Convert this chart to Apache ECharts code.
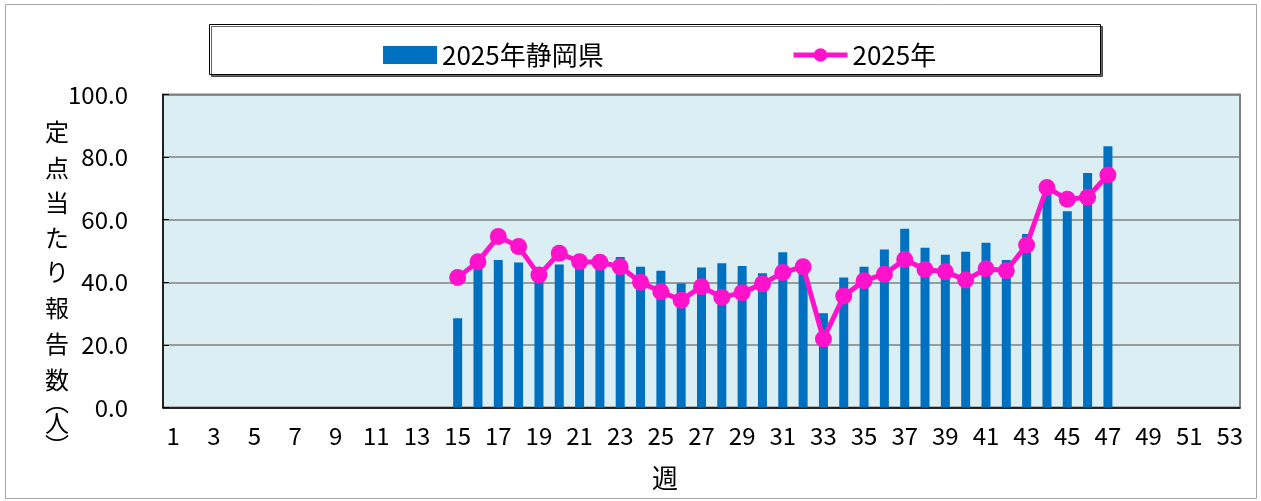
<!DOCTYPE html>
<html>
<head>
<meta charset="utf-8">
<script src="https://cdn.jsdelivr.net/npm/echarts@6/dist/echarts.min.js"></script>
<style>
  html, body { margin: 0; padding: 0; background: #fff; }
  #main { width: 1261px; height: 501px; }
</style>
</head>
<body>
<div id="main"></div>
<script>
// 週 1〜53
var weeks = [];
for (var i = 1; i <= 53; i++) weeks.push(String(i));

// 2025年静岡県（棒）第15週〜第47週
var shizuoka2025 = [
  28.5, 45.0, 47.1, 46.3, 42.0, 45.7, 44.6, 45.2, 48.1, 45.0,
  43.7, 39.6, 44.7, 46.1, 45.2, 42.9, 49.6, 43.5, 30.1, 41.5,
  45.0, 50.5, 57.1, 51.0, 48.8, 49.8, 52.6, 47.1, 55.4, 67.9,
  62.7, 74.9, 83.5
];
// 2025年（折れ線）第15週〜第47週
var total2025 = [
  41.5, 46.6, 54.6, 51.4, 42.3, 49.3, 46.6, 46.4, 45.0, 40.0,
  37.0, 34.3, 38.6, 35.2, 36.7, 39.5, 43.1, 45.0, 21.9, 35.6,
  40.5, 42.6, 47.3, 44.1, 43.4, 40.7, 44.3, 43.7, 51.9, 70.3,
  66.5, 67.2, 74.3
];
var startWeek = 15;

function pad(arr) {
  var out = [];
  for (var i = 1; i <= 53; i++) {
    var k = i - startWeek;
    out.push(k >= 0 && k < arr.length ? arr[k] : null);
  }
  return out;
}

var font = '"Noto Sans CJK JP", "Noto Sans", sans-serif';
// 縦書きの軸名（文字, 中心y）
var yName = ['定', '点', '当', 'た', 'り', '報', '告', '数', '︵', '人', '︶'];
var yNameY = [132, 168, 203, 238, 272, 308, 344, 380, 402, 423, 446];

var graphics = [
  { type: 'rect', shape: { x: 5.5, y: 4.5, width: 1251, height: 494 }, style: { fill: 'none', stroke: '#A6A6A6', lineWidth: 1 }, z: -1 },
  { type: 'rect', shape: { x: 209.5, y: 24.5, width: 891, height: 50 },
    style: { fill: '#fff', stroke: '#000', lineWidth: 1, shadowColor: 'rgba(0,0,0,0.6)', shadowOffsetX: 2, shadowOffsetY: 2, shadowBlur: 0 }, z: -1 },
  { type: 'text', x: 665, y: 478, style: { text: '週', font: '26px ' + font, fill: '#000', align: 'center', verticalAlign: 'middle' } }
];
yName.forEach(function (ch, i) {
  graphics.push({ type: 'text', x: 57, y: yNameY[i], style: { text: ch, font: '24px ' + font, fill: '#000', align: 'center', verticalAlign: 'middle' } });
});

var myChart = echarts.init(document.getElementById('main'));
myChart.setOption({
  animation: false,
  textStyle: { fontFamily: font, color: '#000' },
  grid: { left: 163, right: 21, top: 94.5, bottom: 93.5, show: true, backgroundColor: '#DAEEF3', borderWidth: 2, borderColor: '#808080' },
  graphic: graphics,
  legend: [
    { data: [{ name: '2025年静岡県', icon: 'rect' }], left: 378, top: 37, itemWidth: 54, itemHeight: 18, itemGap: 4,
      textStyle: { fontSize: 26, fontFamily: font, color: '#000' } },
    { data: ['2025年'], left: 786, top: 37, itemWidth: 54, itemHeight: 17, itemGap: 4,
      lineStyle: { width: 5 },
      textStyle: { fontSize: 26, fontFamily: font, color: '#000' } }
  ],
  xAxis: {
    type: 'category',
    data: weeks,
    axisLine: { lineStyle: { color: '#000', width: 1.5 } },
    axisTick: { inside: true, length: 6, interval: 0, lineStyle: { color: '#000' } },
    axisLabel: { interval: 1, fontSize: 24, color: '#000', margin: 16 }
  },
  yAxis: {
    type: 'value',
    min: 0, max: 100, interval: 20,
    axisLine: { show: true, lineStyle: { color: '#000', width: 1.5 } },
    axisTick: { show: true, inside: true, length: 6, lineStyle: { color: '#000' } },
    axisLabel: { fontSize: 24, color: '#000', margin: 35, formatter: function (v) { return v.toFixed(1); } },
    splitLine: { lineStyle: { color: '#808080', width: 1.5 } }
  },
  series: [
    {
      name: '2025年静岡県',
      type: 'bar',
      data: pad(shizuoka2025),
      barWidth: 9,
      itemStyle: { color: '#0070C0' },
      z: 2
    },
    {
      name: '2025年',
      type: 'line',
      data: pad(total2025),
      symbol: 'circle',
      symbolSize: 17,
      showAllSymbol: true,
      lineStyle: { color: '#FF12CC', width: 5 },
      itemStyle: { color: '#FF12CC' },
      z: 3
    }
  ]
});
</script>
</body>
</html>
